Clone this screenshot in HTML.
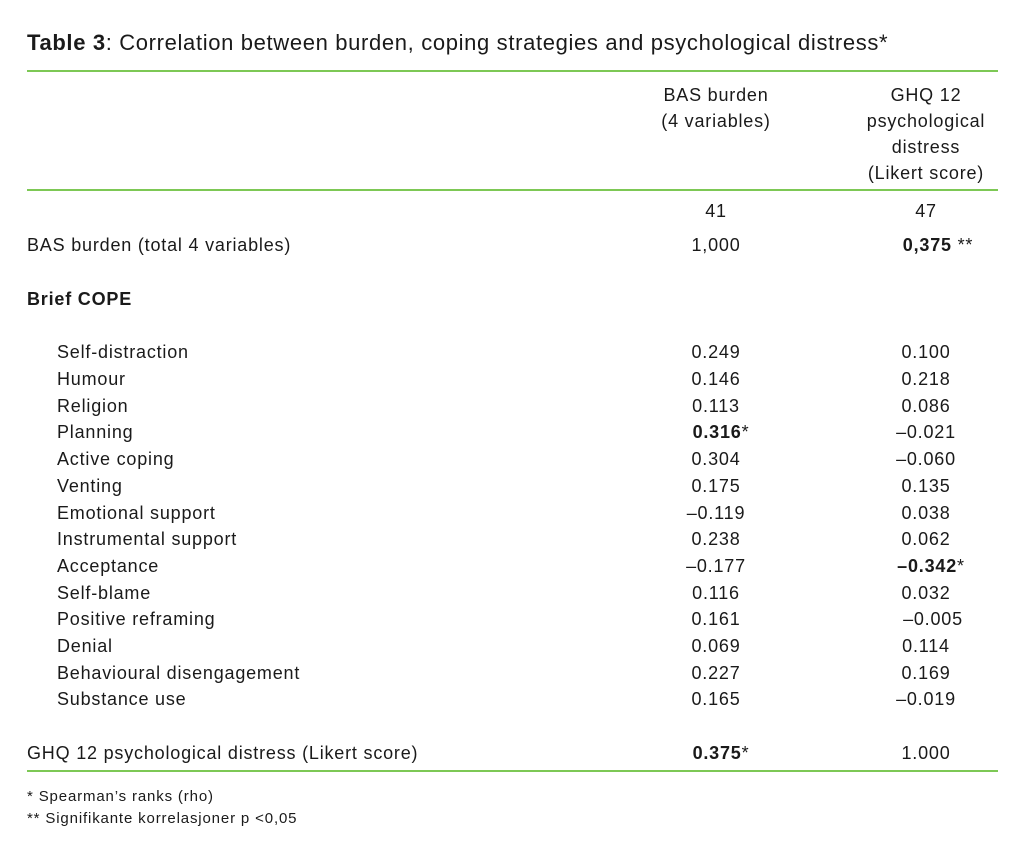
<!DOCTYPE html><html><head><meta charset="utf-8"><style>
body{margin:0;width:1024px;height:851px;background:#fff;position:relative;font-family:"Liberation Sans",sans-serif;color:#1a1a1a;overflow:hidden}
div{position:absolute;white-space:nowrap;font-size:18px;line-height:22px;letter-spacing:0.8px}
.l{left:27px}.i{left:57px}
.c1{left:616px;width:200px;text-align:center}
.c2{left:826px;width:200px;text-align:center}
.g{left:27px;width:971px;height:2px;background:#7dc855}
.f{font-size:15px;left:27px;letter-spacing:0.85px}
</style></head><body>
<div style="left:27px;top:30px;font-size:22px;line-height:26px;letter-spacing:0.65px"><b>Table 3</b>: Correlation between burden, coping strategies and psychological distress*</div>
<div class="g" style="top:70px"></div>
<div class="c1" style="top:84px">BAS burden</div>
<div class="c1" style="top:110px">(4 variables)</div>
<div class="c2" style="top:84px">GHQ 12</div>
<div class="c2" style="top:110px">psychological</div>
<div class="c2" style="top:136px">distress</div>
<div class="c2" style="top:162px">(Likert score)</div>
<div class="g" style="top:189px"></div>
<div class="c1" style="top:200px">41</div>
<div class="c2" style="top:200px">47</div>
<div class="l" style="top:234px">BAS burden (total 4 variables)</div>
<div class="c1" style="top:234px">1,000</div>
<div class="c2" style="top:234px;left:838px"><b>0,375</b> **</div>
<div class="l" style="top:288px"><b>Brief COPE</b></div>
<div class="i" style="top:341px">Self-distraction</div><div class="c1" style="top:341px">0.249</div><div class="c2" style="top:341px">0.100</div>
<div class="i" style="top:368px">Humour</div><div class="c1" style="top:368px">0.146</div><div class="c2" style="top:368px">0.218</div>
<div class="i" style="top:395px">Religion</div><div class="c1" style="top:395px">0.113</div><div class="c2" style="top:395px">0.086</div>
<div class="i" style="top:421px">Planning</div><div class="c1" style="top:421px;left:621px"><b>0.316</b>*</div><div class="c2" style="top:421px">–0.021</div>
<div class="i" style="top:448px">Active coping</div><div class="c1" style="top:448px">0.304</div><div class="c2" style="top:448px">–0.060</div>
<div class="i" style="top:475px">Venting</div><div class="c1" style="top:475px">0.175</div><div class="c2" style="top:475px">0.135</div>
<div class="i" style="top:502px">Emotional support</div><div class="c1" style="top:502px">–0.119</div><div class="c2" style="top:502px">0.038</div>
<div class="i" style="top:528px">Instrumental support</div><div class="c1" style="top:528px">0.238</div><div class="c2" style="top:528px">0.062</div>
<div class="i" style="top:555px">Acceptance</div><div class="c1" style="top:555px">–0.177</div><div class="c2" style="top:555px;left:831px"><b>–0.342</b>*</div>
<div class="i" style="top:582px">Self-blame</div><div class="c1" style="top:582px">0.116</div><div class="c2" style="top:582px">0.032</div>
<div class="i" style="top:608px">Positive reframing</div><div class="c1" style="top:608px">0.161</div><div class="c2" style="top:608px;left:833px">–0.005</div>
<div class="i" style="top:635px">Denial</div><div class="c1" style="top:635px">0.069</div><div class="c2" style="top:635px">0.114</div>
<div class="i" style="top:662px">Behavioural disengagement</div><div class="c1" style="top:662px">0.227</div><div class="c2" style="top:662px">0.169</div>
<div class="i" style="top:688px">Substance use</div><div class="c1" style="top:688px">0.165</div><div class="c2" style="top:688px">–0.019</div>
<div class="l" style="top:742px">GHQ 12 psychological distress (Likert score)</div>
<div class="c1" style="top:742px;left:621px"><b>0.375</b>*</div>
<div class="c2" style="top:742px">1.000</div>
<div class="g" style="top:770px"></div>
<div class="f" style="top:786px">* Spearman’s ranks (rho)</div>
<div class="f" style="top:808px">** Signifikante korrelasjoner p &lt;0,05</div>
</body></html>
